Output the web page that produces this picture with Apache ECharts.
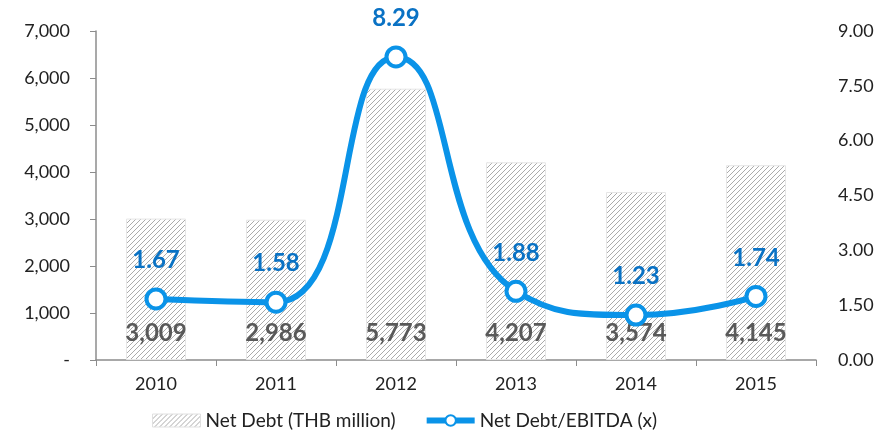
<!DOCTYPE html>
<html><head><meta charset="utf-8">
<script src="https://cdn.jsdelivr.net/npm/echarts@6/dist/echarts.min.js"></script>
<style>html,body{margin:0;padding:0;background:#fff}#c{width:880px;height:438px}</style>
</head><body><div id="c"></div>
<script>
var categories = ['2010','2011','2012','2013','2014','2015'];
var netDebt = [3009, 2986, 5773, 4207, 3574, 4145];
var ratio = [1.67, 1.58, 8.29, 1.88, 1.23, 1.74];
var leftTicks = [0, 1000, 2000, 3000, 4000, 5000, 6000, 7000];
var rightTicks = [0, 1.5, 3, 4.5, 6, 7.5, 9];

function hatch(){
  var c = document.createElement('canvas'); c.width = 5; c.height = 5;
  var g = c.getContext('2d');
  g.fillStyle = '#fff'; g.fillRect(0,0,5,5);
  g.strokeStyle = '#ababab'; g.lineWidth = 1;
  g.beginPath();
  g.moveTo(-1,6); g.lineTo(6,-1);
  g.moveTo(-3.5,3.5); g.lineTo(3.5,-3.5);
  g.moveTo(1.5,8.5); g.lineTo(8.5,1.5);
  g.stroke();
  return c;
}
var pat = {image: hatch(), repeat: 'repeat'};
var font = 'Lato, "DejaVu Sans", sans-serif';
var chart = echarts.init(document.getElementById('c'));
chart.setOption({
  animation: false,
  textStyle: {fontFamily: font},
  grid: {left: 96, right: 64, top: 31, bottom: 78},
  legend: {
    bottom: 3, left: 147, itemGap: 28, itemWidth: 48, itemHeight: 13,
    textStyle: {fontSize: 19, color: '#222', fontFamily: font},
    data: [
      {name: 'Net Debt (THB million)', icon: 'rect', itemStyle: {color: pat, borderColor: '#e0e0e0', borderWidth: 1}},
      {name: 'Net Debt/EBITDA (x)', lineStyle: {width: 6, color: '#0a93e8'}}
    ]
  },
  xAxis: {
    type: 'category', data: categories,
    axisLine: {lineStyle: {color: '#8c8c8c', width: 1.5}},
    axisTick: {show: true, length: 6, lineStyle: {color: '#8c8c8c'}},
    axisLabel: {fontSize: 18, color: '#222', margin: 15}
  },
  yAxis: [{
    type: 'value', min: 0, max: 7000, interval: 1000,
    axisLine: {show: true, lineStyle: {color: '#8c8c8c', width: 1.5}},
    axisTick: {show: true, length: 6, lineStyle: {color: '#8c8c8c'}},
    splitLine: {show: false},
    axisLabel: {fontSize: 18, color: '#222', margin: 26,
      formatter: function(v){ return v === 0 ? '-' : v.toLocaleString('en-US'); }}
  }, {
    type: 'value', min: 0, max: 9, interval: 1.5,
    axisLine: {show: false}, axisTick: {show: false}, splitLine: {show: false},
    axisLabel: {fontSize: 18, color: '#222', margin: 22,
      formatter: function(v){ return v.toFixed(2); }}
  }],
  series: [{
    name: 'Net Debt (THB million)', type: 'bar', data: netDebt, barWidth: '50%',
    itemStyle: {color: pat, borderColor: '#e6e6e6', borderWidth: 1},
    label: {show: true, position: 'insideBottom', distance: 15, fontSize: 24, fontWeight: 'bold',
      color: '#595959', fontFamily: font,
      formatter: function(p){ return p.value.toLocaleString('en-US'); }}
  }, {
    name: 'Net Debt/EBITDA (x)', type: 'line', yAxisIndex: 1, data: ratio, smooth: 0.5,
    lineStyle: {color: '#0a93e8', width: 6},
    itemStyle: {color: '#fff', borderColor: '#0a93e8', borderWidth: 4},
    symbol: 'circle', symbolSize: 19,
    label: {show: true, position: 'top', distance: 15, fontSize: 24, fontWeight: 'bold',
      color: '#0a72c4', fontFamily: font,
      formatter: function(p){ return p.value.toFixed(2); }},
    z: 5
  }]
});
</script></body></html>
